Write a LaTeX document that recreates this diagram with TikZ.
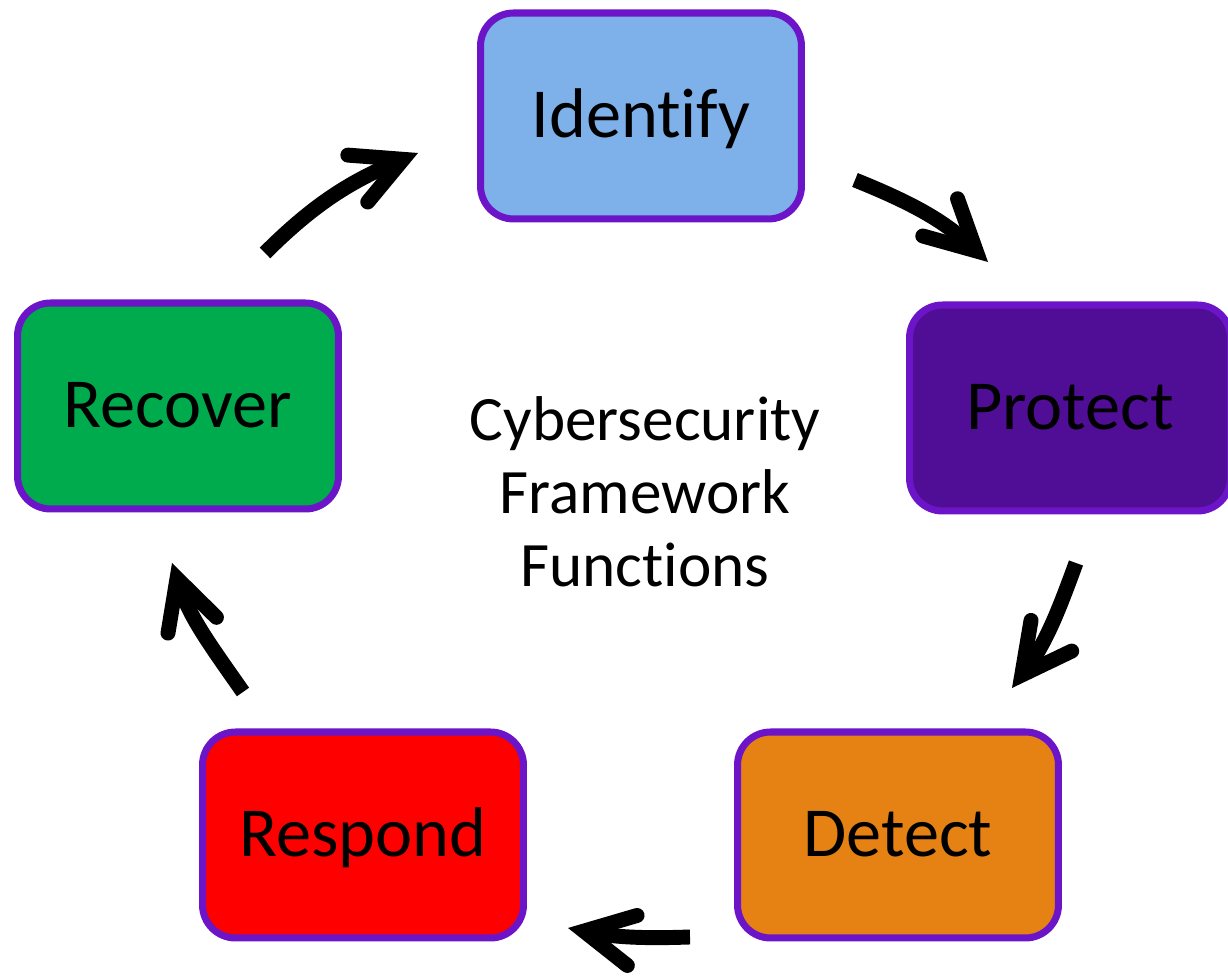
\documentclass[tikz,border=0pt]{standalone}
\usepackage{fontspec}
\setmainfont{Carlito}[Ligatures=NoCommon]
\usetikzlibrary{arrows.meta}
\definecolor{bordc}{RGB}{108,20,200}
\definecolor{idc}{RGB}{126,176,234}
\definecolor{prc}{RGB}{80,13,150}
\definecolor{rcc}{RGB}{0,171,78}
\definecolor{rsc}{RGB}{255,0,0}
\definecolor{dtc}{RGB}{229,130,19}
\tikzset{
  fnbox/.style={draw=bordc, line width=4pt, rounded corners=0.66cm,
    minimum width=6.42cm, minimum height=4.12cm, inner sep=0pt,
    font=\fontsize{40}{48}\selectfont, text height=25pt, text depth=0pt},
  cyc/.style={line width=8.5pt, black,
    -{Straight Barb[length=28pt,width=29pt,line cap=round,line join=miter]}},
}
\begin{document}
\begin{tikzpicture}[x=0.02cm,y=0.02cm]
\useasboundingbox (0,0) rectangle (1228,976);
\node[fnbox, fill=idc] (identify) at (641,860) {Identify};
\node[fnbox, fill=prc] (protect) at (1070,568) {Protect};
\node[fnbox, fill=dtc] (detect) at (898,141) {Detect};
\node[fnbox, fill=rsc] (respond) at (363,141) {Respond};
\node[fnbox, fill=rcc] (recover) at (178,570) {Recover};
\node[align=center, font=\fontsize{36}{41.5}\selectfont] (title) at (645,484)
  {Cybersecurity\\Framework\\Functions};
\coordinate (a1s) at (265,723); \coordinate (a1e) at (418,823);
\coordinate (a2s) at (855,796); \coordinate (a2e) at (988,714);
\coordinate (a3s) at (1076,413); \coordinate (a3e) at (1012,288);
\coordinate (a4s) at (690,39); \coordinate (a4e) at (568,48);
\coordinate (a5s) at (243,284); \coordinate (a5e) at (172,413);
\draw[cyc] (a1s) to[out=45,in=203] (a1e);
\draw[cyc] (a2s) to[out=-22,in=137] (a2e);
\draw[cyc] (a3s) to[out=250,in=53] (a3e);
\draw[cyc] (a4s) to[out=182,in=-11] (a4e);
\draw[cyc] (a5s) to[out=125,in=-72] (a5e);
\end{tikzpicture}
\end{document}
